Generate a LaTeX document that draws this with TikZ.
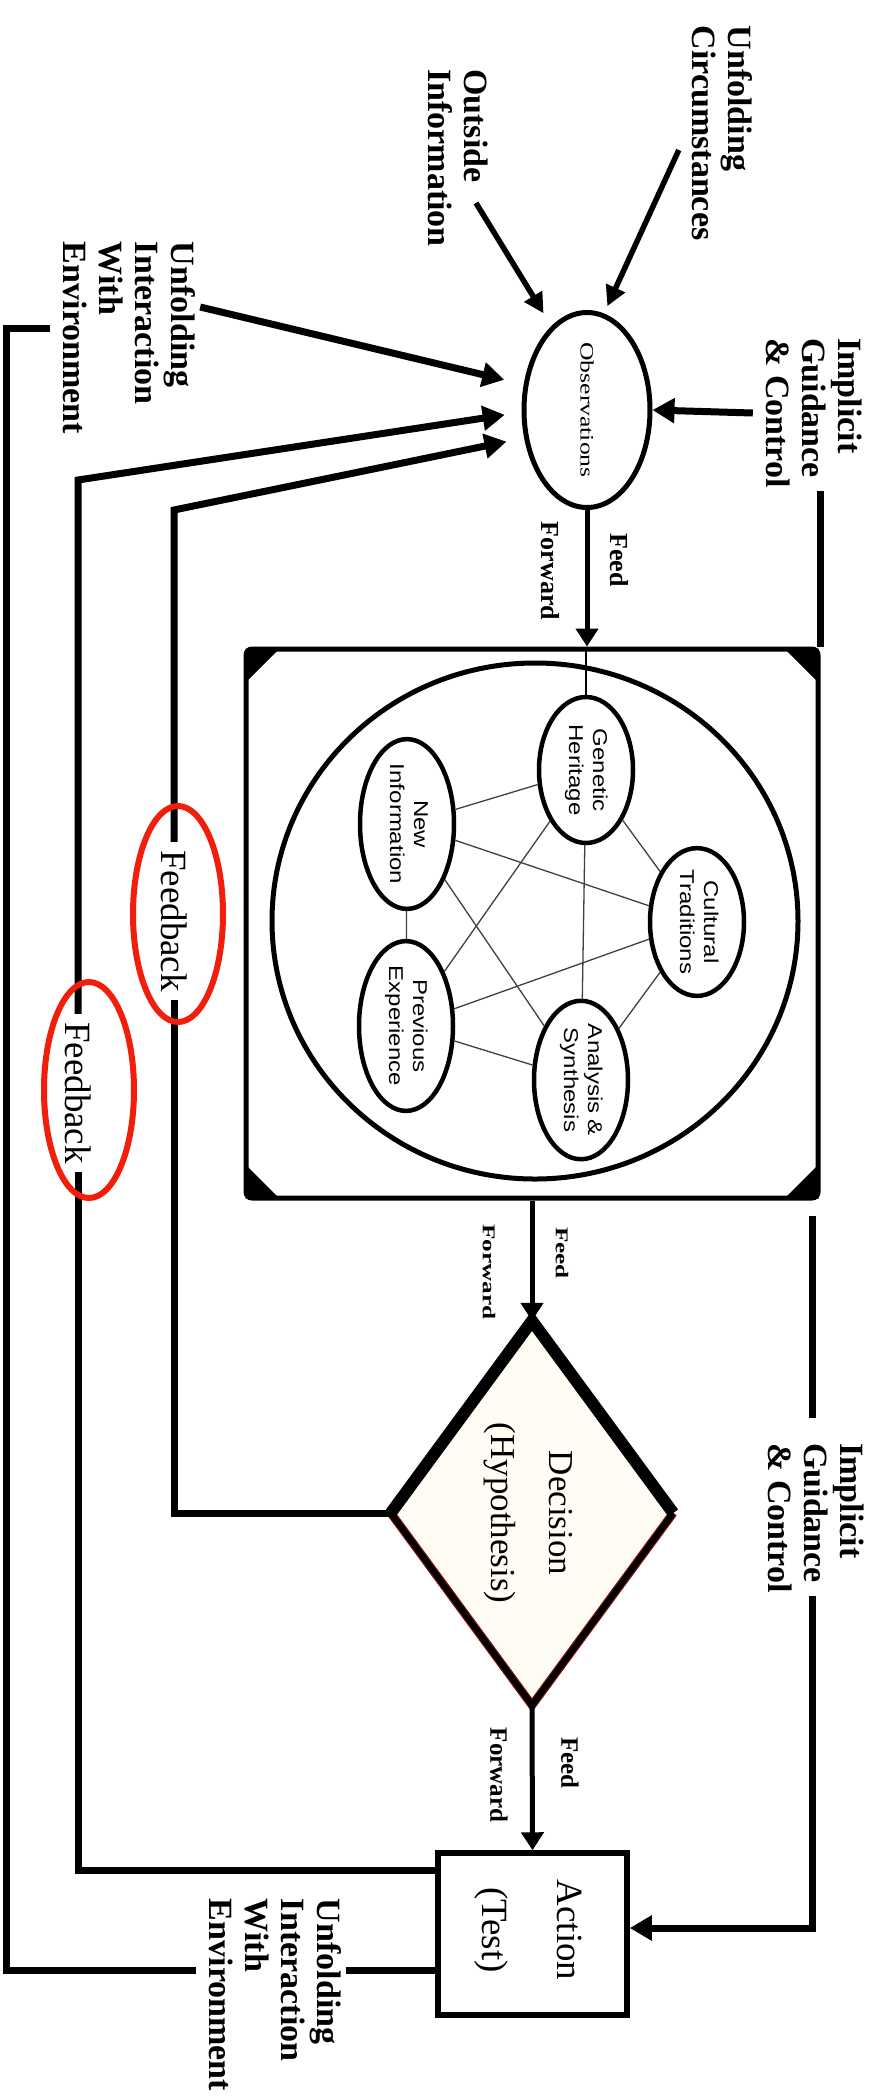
\documentclass[tikz,border=0pt]{standalone}
\usepackage{fontspec}
\setmainfont{Liberation Serif}
\newfontfamily\sansf{Liberation Sans}
\usetikzlibrary{arrows.meta,shapes.geometric}
\definecolor{fbred}{RGB}{240,30,10}
\definecolor{cream}{RGB}{255,253,243}
\definecolor{dred}{RGB}{130,10,10}
\newcommand{\vtext}[2]{\rotatebox{-90}{\begin{tabular}{@{}#1@{}}#2\end{tabular}}}
\newcommand{\itext}[2]{\rotatebox{-90}{\scalebox{1.2}[1]{\sansf\fontsize{20}{24}\selectfont\begin{tabular}{@{}c@{}}#1\\#2\end{tabular}}}}
\begin{document}
\begin{tikzpicture}[x=1pt,y=-1pt,
  lbl/.style={inner sep=3pt, font=\bfseries\fontsize{34}{36}\selectfont},
  ffl/.style={inner sep=0pt, font=\bfseries\fontsize{26}{26}\selectfont},
  fbl/.style={inner sep=8pt, font=\fontsize{37}{37}\selectfont},
  inner/.style={draw, ellipse, line width=4.5pt, minimum width=94pt, minimum height=146pt, inner sep=0pt},
  edge/.style={line width=1.3pt, black!75},
  fb/.style={line width=7pt},
  fbarr/.style={line width=7pt, -{Triangle[length=22pt,width=24pt]}},
  bigarr/.style={line width=7pt, -{Triangle[length=22pt,width=24pt]}},
  midarr/.style={line width=5.5pt, -{Triangle[length=20pt,width=20pt]}},
  ffarr/.style={line width=5pt, -{Triangle[length=18pt,width=22pt]}},
  redell/.style={draw=fbred, line width=6pt, ellipse, minimum width=90pt, minimum height=216pt, inner sep=0pt}]
\useasboundingbox (0,0) rectangle (874,2097);
\fill[white] (0,0) rectangle (874,2097);

% outside labels
\node[lbl] (UC) at (718,133) {\vtext{l}{Unfolding\\Circumstances}};
\node[lbl] (OI) at (454,158) {\vtext{l}{Outside\\Information}};
\node[lbl] (UIEu) at (125,338) {\vtext{l}{Unfolding\\Interaction\\With\\Environment}};
\node[lbl] (IGu) at (810,413) {\vtext{l}{Implicit\\Guidance\\\& Control}};
\node[lbl] (IGl) at (812,1518) {\vtext{l}{Implicit\\Guidance\\\& Control}};
\node[lbl] (UIEl) at (271,1995) {\vtext{l}{Unfolding\\Interaction\\With\\Environment}};

% observations
\node[draw, ellipse, line width=5pt, minimum width=126pt, minimum height=195pt, inner sep=0pt] (O) at (587,410)
  {\rotatebox{-90}{\scalebox{1.35}[1]{\fontsize{19}{19}\selectfont Observations}}};

% orientation square
\node[draw, line width=5pt, rounded corners=6pt, minimum width=572pt, minimum height=549pt, inner sep=0pt] (SQ) at (532,923.5) {};
\fill ([shift={(2,2)}]SQ.north west) -- ++(34,0) -- ++(-34,34) -- cycle;
\fill ([shift={(-2,2)}]SQ.north east) -- ++(-34,0) -- ++(34,34) -- cycle;
\fill ([shift={(2,-2)}]SQ.south west) -- ++(34,0) -- ++(-34,-34) -- cycle;
\fill ([shift={(-2,-2)}]SQ.south east) -- ++(-34,0) -- ++(34,-34) -- cycle;
\node[draw, ellipse, line width=5pt, minimum width=526pt, minimum height=516pt, inner sep=0pt] (CIR) at (535,921) {};

\node[inner] (GH) at (586,770) {\itext{Genetic}{Heritage}};
\node[inner] (CT) at (697,922) {\itext{Cultural}{Traditions}};
\node[inner] (AS) at (581,1080) {\itext{Analysis \&}{Synthesis}};
\node[inner] (PE) at (406,1026) {\itext{Previous}{Experience}};
\node[inner] (NI) at (407,824) {\itext{New}{Information}};
\foreach \a/\b in {GH/CT,GH/AS,GH/PE,GH/NI,CT/AS,CT/PE,CT/NI,AS/PE,AS/NI,PE/NI}
  \draw[edge] (\a) -- (\b);

% decision
\node[diamond, fill=cream, minimum width=282pt, minimum height=384pt, inner sep=0pt, shape aspect=0.734] (D) at (532,1513) {};
\draw[dred, line width=8.5pt, line join=miter] (D.east) -- (D.south) -- (D.west);
\draw[black, line width=6pt, line join=miter] (D.east) -- (D.south) -- (D.west);
\draw[black, line width=12pt, line join=miter] (D.west) -- (D.north) -- (D.east);
\node (DT) at (D.center) {\rotatebox{-90}{\fontsize{35}{58}\selectfont\begin{tabular}{@{}c@{}}Decision\\(Hypothesis)\end{tabular}}};

% action
\node[draw, line width=5.5pt, minimum width=189pt, minimum height=162pt, inner sep=0pt] (A) at (532.5,1934) {};
\node (AT) at (535,1930) {\rotatebox{-90}{\fontsize{37}{75}\selectfont\begin{tabular}{@{}c@{}}Action\\(Test)\end{tabular}}};

% feed forward
\draw[ffarr] (O.south) -- (O.south |- SQ.north);
\draw[line width=1.2pt] (SQ.north -| GH.north) -- (GH.north);
\node[ffl] (f1a) at (619,560) {\rotatebox{-90}{Feed}};
\node[ffl] (f1b) at (550,571) {\rotatebox{-90}{Forward}};
\draw[ffarr] (SQ.south) -- (D.north);
\node[ffl] (f2a) at (562,1253) {\rotatebox{-90}{\scalebox{1.4}[1]{\fontsize{18}{18}\selectfont Feed}}};
\node[ffl] (f2b) at (489,1272) {\rotatebox{-90}{\scalebox{1.4}[1]{\fontsize{18}{18}\selectfont Forward}}};
\draw[ffarr] (D.south) -- (A.north);
\node[ffl, font=\bfseries\fontsize{25}{25}\selectfont] (f3a) at (570,1763) {\rotatebox{-90}{Feed}};
\node[ffl, font=\bfseries\fontsize{25}{25}\selectfont] (f3b) at (499,1775) {\rotatebox{-90}{Forward}};

% inputs to observations
\draw[midarr, shorten >=8pt] ([yshift=-17pt]UC.west) -- (O.80);
\draw[midarr, shorten >=15pt] ([shift={(22,45)}]OI.center) -- (O.113);
\draw[bigarr, shorten >=20pt] ([yshift=31pt]UIEu.east) -- (O.158);
\draw[bigarr] (IGu.west) -- (O.east);

% implicit guidance lines
\draw[fb] (IGu.south -| SQ.north east) -- (SQ.north east);
\coordinate (igs) at (812,1216);
\coordinate (igc) at (812,1928);
\draw[fb, shorten >=22pt] (igs) -- (IGl.north);
\draw[fbarr] (IGl.south) -- (igc) -- (A.east |- igc);

% feedback loops
\node[fbl] (FBi) at (174,921) {\rotatebox{-90}{Feedback}};
\node[fbl] (FBo) at (78,1093) {\rotatebox{-90}{Feedback}};
\coordinate (ic2) at (174,510);
\coordinate (oc1) at (78,1870);
\coordinate (oc2) at (78,480);
\draw[fb, line join=miter] (D.west) -- (FBi.south |- D.west) -- (FBi.south);
\draw[fbarr, line join=miter, shorten >=18pt] (FBi.north) -- (ic2) -- (O.204);
\draw[fb, line join=miter] (A.west |- oc1) -- (oc1) -- (FBo.south);
\draw[fbarr, line join=miter, shorten >=17pt] (FBo.north) -- (oc2) -- (O.182);

\coordinate (bl) at (6,1970);
\coordinate (tl) at (6,328);
\draw[fb] (A.west |- bl) -- (UIEl.east |- bl);
\draw[fb, line join=miter] (UIEl.west |- bl) -- (bl) -- (tl) -- (UIEu.west |- tl);

% red highlight ellipses
\node[redell] (R1) at (178,914) {};
\node[redell] (R2) at (89,1090) {};
\end{tikzpicture}
\end{document}
